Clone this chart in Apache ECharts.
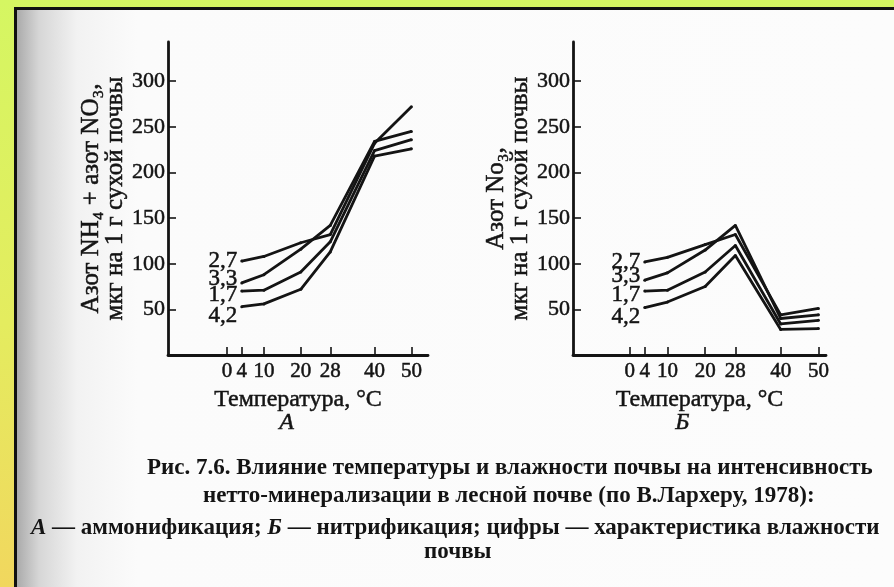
<!DOCTYPE html>
<html>
<head>
<meta charset="utf-8">
<script src="https://cdn.jsdelivr.net/npm/echarts@6/dist/echarts.min.js"></script>
<style>
  html, body { margin: 0; padding: 0; }
  body {
    width: 894px; height: 587px; overflow: hidden; position: relative;
    background: linear-gradient(180deg, #d5f662 0%, #e4ec5f 55%, #f1d75e 100%);
  }
  #page {
    position: absolute; left: 14px; top: 7px; right: 0; bottom: 0;
    border-top: 3px solid #111; border-left: 3px solid #111;
    background: linear-gradient(90deg, #ababab 0px, #d6d6d6 22px, #f2f2f2 60px, #fbfbfb 120px, #fcfcfc 100%);
  }
  #chart { position: absolute; left: 0; top: 0; width: 894px; height: 587px; }
</style>
</head>
<body>
<div id="page"></div>
<div id="chart"></div>
<script>
// температура, °C
const temps = [4, 10, 20, 28, 40, 50]
const xTickValues = [0, 4, 10, 20, 28, 40, 50]
const yTickValues = [50, 100, 150, 200, 250, 300]
const moisture = ['2,7', '3,3', '1,7', '4,2']

// А — аммонификация (NH4 + NO3)
const ammon27 = [103, 108, 123, 132, 232, 272]
const ammon33 = [79, 88, 116, 142, 234, 245]
const ammon17 = [70, 71, 91, 124, 224, 236]
const ammon42 = [53, 56, 72, 113, 218, 226]

// Б — нитрификация (NO3)
const nitr27 = [102, 107, 121, 132, 44, 51]
const nitr33 = [82, 90, 115, 142, 40, 44]
const nitr17 = [70, 71, 91, 120, 34, 38]
const nitr42 = [52, 58, 75, 109, 28, 29]

const serif = "'Liberation Serif', 'DejaVu Serif', serif"
const ink = '#141414'
// thicker glyphs, like the scanned print
const heavy = { textBorderColor: ink, textBorderWidth: 0.5 }
const labelShift = [0, -4, 4, 9]

function makeSeries(values, idx, axisIdx) {
    return {
        type: 'line',
        xAxisIndex: axisIdx,
        yAxisIndex: axisIdx,
        data: temps.map((t, i) => [t, values[i]]),
        symbol: 'circle',
        symbolSize: 3,
        itemStyle: { color: ink },
        lineStyle: { color: ink, width: 2.8 },
        label: {
            show: true,
            position: 'left',
            distance: 3,
            offset: [0, labelShift[idx]],
            fontFamily: serif,
            fontSize: 23,
            color: ink,
            ...heavy,
            formatter: p => p.dataIndex === 0 ? moisture[idx] : ''
        },
        silent: true,
        animation: false
    }
}

function makeX(gridIndex, min, max) {
    return {
        type: 'value', gridIndex, min, max,
        name: 'Температура, °C',
        nameLocation: 'middle',
        nameGap: 32,
        nameTextStyle: { fontFamily: serif, fontSize: 24, color: ink, ...heavy },
        axisLine: { onZero: false, lineStyle: { color: ink, width: 2.8 } },
        axisTick: { inside: true, length: 8, customValues: xTickValues, lineStyle: { color: ink, width: 1.6 } },
        axisLabel: { customValues: xTickValues, fontFamily: serif, fontSize: 21, color: ink, margin: 6, ...heavy },
        splitLine: { show: false }
    }
}

function makeY(gridIndex, name) {
    return {
        type: 'value', gridIndex, min: 0, max: 343,
        name,
        nameLocation: 'middle',
        nameRotate: 90,
        nameGap: 35,
        nameTextStyle: { fontFamily: serif, fontSize: 25, color: ink, lineHeight: 24, ...heavy },
        axisLine: { onZero: false, lineStyle: { color: ink, width: 2.8 } },
        axisTick: { inside: true, length: 8, customValues: yTickValues, lineStyle: { color: ink, width: 1.6 } },
        axisLabel: { customValues: yTickValues, fontFamily: serif, fontSize: 22, color: ink, margin: 3, ...heavy },
        splitLine: { show: false }
    }
}

const chart = echarts.init(document.getElementById('chart'))
chart.setOption({
    backgroundColor: 'transparent',
    animation: false,
    grid: [
        { left: 168, top: 42, width: 260, height: 313 },
        { left: 573, top: 42, width: 253, height: 313 }
    ],
    xAxis: [makeX(0, -16, 54.5), makeX(1, -15, 52)],
    yAxis: [
        makeY(0, 'Азот NH₄ + азот NO₃,\nмкг на 1 г сухой почвы'),
        makeY(1, 'Азот No₃,\nмкг на 1 г сухой почвы')
    ],
    series: [
        makeSeries(ammon27, 0, 0), makeSeries(ammon33, 1, 0),
        makeSeries(ammon17, 2, 0), makeSeries(ammon42, 3, 0),
        makeSeries(nitr27, 0, 1), makeSeries(nitr33, 1, 1),
        makeSeries(nitr17, 2, 1), makeSeries(nitr42, 3, 1)
    ],
    graphic: [
        { type: 'text', left: 279, top: 410, style: { text: 'А', font: 'italic 24px ' + serif, fill: ink, stroke: ink, lineWidth: 0.5 } },
        { type: 'text', left: 675, top: 410, style: { text: 'Б', font: 'italic 24px ' + serif, fill: ink, stroke: ink, lineWidth: 0.5 } },
        { type: 'text', left: 147, top: 457, style: { text: 'Рис. 7.6. Влияние температуры и влажности почвы на интенсивность', font: 'bold 23px ' + serif, fill: ink } },
        { type: 'text', left: 203, top: 485, style: { text: 'нетто-минерализации в лесной почве (по В.Лархеру, 1978):', font: 'bold 23px ' + serif, fill: ink } },
        {
            type: 'text', left: 31, top: 517,
            style: {
                text: '{i|А} — аммонификация; {i|Б} — нитрификация; цифры — характеристика влажности',
                font: 'bold 23px ' + serif, fill: ink,
                rich: { i: { fontStyle: 'italic', fontWeight: 'bold', fontSize: 23, fontFamily: serif, color: ink } }
            }
        },
        { type: 'text', left: 424, top: 541, style: { text: 'почвы', font: 'bold 23px ' + serif, fill: ink } }
    ]
})
</script>
</body>
</html>
